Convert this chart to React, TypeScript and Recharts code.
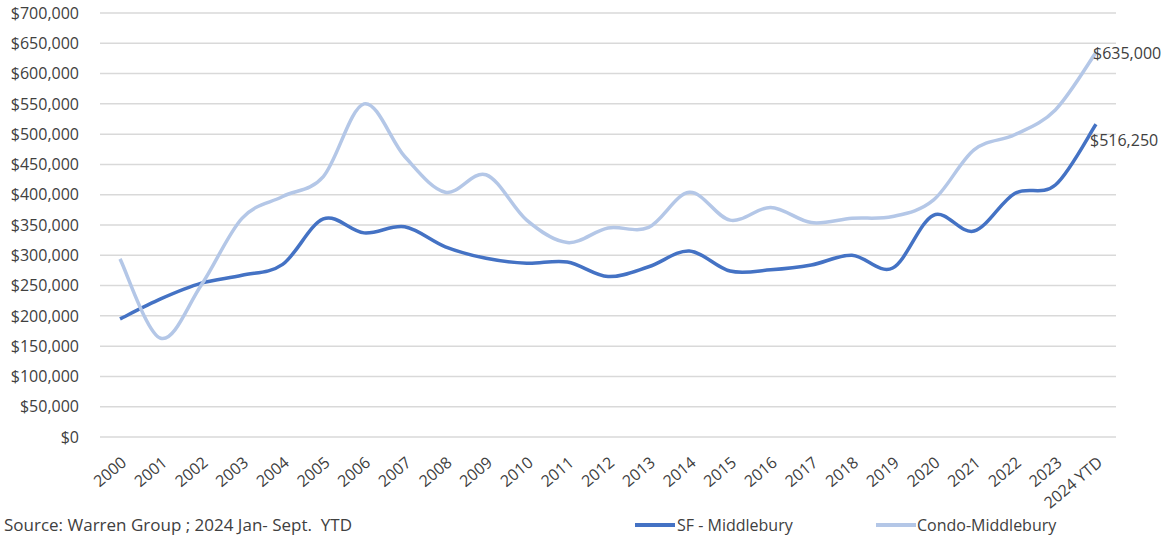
import React from "react";
import { LineChart, Line, XAxis, YAxis, CartesianGrid, LabelList } from "recharts";

const years = [
  "2000", "2001", "2002", "2003", "2004", "2005", "2006", "2007", "2008", "2009",
  "2010", "2011", "2012", "2013", "2014", "2015", "2016", "2017", "2018", "2019",
  "2020", "2021", "2022", "2023", "2024 YTD",
];

const sfMiddlebury = [
  195000, 228000, 254000, 267000, 285000, 360000, 337000, 347000, 314000, 295000,
  287000, 289000, 265000, 281000, 307000, 274000, 276000, 284000, 300000, 279000,
  366000, 340000, 402000, 416000, 516250,
];

const condoMiddlebury = [
  294000, 163000, 251000, 361000, 397000, 430000, 550000, 463000, 404000, 433000,
  358000, 321000, 345000, 346000, 404000, 358000, 379000, 354000, 361000, 364000,
  391000, 474000, 499000, 540000, 635000,
];

const yTicks = [0, 50000, 100000, 150000, 200000, 250000, 300000, 350000, 400000, 450000, 500000, 550000, 600000, 650000, 700000];

const data = years.map((year, i) => ({
  year,
  sf: sfMiddlebury[i],
  condo: condoMiddlebury[i],
}));

const FONT = "'Open Sans', 'Noto Sans', sans-serif";
const TEXT = "#404040";
const SF_COLOR = "#4472C4";
const CONDO_COLOR = "#B4C7E7";

const money = (v: number) => "$" + v.toLocaleString("en-US");

// Excel-style smoothed line (Catmull-Rom through every point)
const smooth = (context: any) => {
  let pts: number[][] = [];
  return {
    areaStart() {},
    areaEnd() {},
    lineStart() {
      pts = [];
    },
    point(x: number, y: number) {
      pts.push([+x, +y]);
    },
    lineEnd() {
      if (!pts.length) return;
      context.moveTo(pts[0][0], pts[0][1]);
      for (let i = 0; i < pts.length - 1; i++) {
        const p0 = pts[i - 1] || pts[i];
        const p1 = pts[i];
        const p2 = pts[i + 1];
        const p3 = pts[i + 2] || p2;
        context.bezierCurveTo(
          p1[0] + (p2[0] - p0[0]) / 6,
          p1[1] + (p2[1] - p0[1]) / 6,
          p2[0] - (p3[0] - p1[0]) / 6,
          p2[1] - (p3[1] - p1[1]) / 6,
          p2[0],
          p2[1]
        );
      }
    },
  };
};

const lastLabel = (dx: number, dy: number) => (props: any) => {
  const { x, y, value, index } = props;
  if (index !== years.length - 1) return null;
  return (
    <text x={x + dx} y={y + dy} dy="0.35em" fill={TEXT} fontSize={16} fontFamily={FONT}>
      {money(value)}
    </text>
  );
};

const YearTick = (props: any) => {
  const { x, y, payload } = props;
  return (
    <g transform={`translate(${x + 4},${y + 15})`}>
      <text
        textAnchor="end"
        transform="rotate(-40)"
        dy="0.35em"
        fill={TEXT}
        fontSize={16}
        fontFamily={FONT}
      >
        {payload.value}
      </text>
    </g>
  );
};

export default function App() {
  return (
    <div style={{ position: "absolute", left: 0, top: 0, width: 1163, height: 539, background: "#fff" }}>
      <LineChart
        width={1163}
        height={539}
        data={data}
        margin={{ top: 13, right: 47, left: 0, bottom: 0 }}
        style={{ overflow: "visible" }}
      >
        <CartesianGrid vertical={false} stroke="#d9d9d9" strokeWidth={1.5} />
        <XAxis
          dataKey="year"
          axisLine={false}
          tickLine={false}
          interval={0}
          height={102}
          padding={{ left: 20, right: 20 }}
          tick={<YearTick />}
        />
        <YAxis
          width={100}
          domain={[0, 700000]}
          ticks={yTicks}
          axisLine={false}
          tickLine={false}
          tickSize={0}
          tickMargin={21}
          tickFormatter={money}
          tick={{ fill: TEXT, fontSize: 16, fontFamily: FONT }}
        />
        <Line
          dataKey="sf"
          type={smooth as any}
          stroke={SF_COLOR}
          strokeWidth={3.5}
          dot={false}
          isAnimationActive={false}
        >
          <LabelList dataKey="sf" content={lastLabel(-6, 16)} />
        </Line>
        <Line
          dataKey="condo"
          type={smooth as any}
          stroke={CONDO_COLOR}
          strokeWidth={3.5}
          dot={false}
          isAnimationActive={false}
        >
          <LabelList dataKey="condo" content={lastLabel(-3, 1)} />
        </Line>
      </LineChart>
      <div
        style={{
          position: "absolute",
          left: 4,
          top: 513,
          fontFamily: FONT,
          fontSize: 17,
          lineHeight: "24px",
          color: TEXT,
          whiteSpace: "pre",
        }}
      >
        {"Source: Warren Group ; 2024 Jan- Sept.  YTD"}
      </div>
      <div
        style={{
          position: "absolute",
          left: 635,
          top: 513,
          display: "flex",
          alignItems: "center",
          fontFamily: FONT,
          fontSize: 16,
          lineHeight: "24px",
          color: TEXT,
          whiteSpace: "pre",
        }}
      >
        <span style={{ display: "inline-block", width: 40, height: 4, background: SF_COLOR, marginRight: 2 }} />
        <span style={{ display: "inline-block", width: 199 }}>SF - Middlebury</span>
        <span style={{ display: "inline-block", width: 40, height: 4, background: CONDO_COLOR, marginRight: 1 }} />
        <span>Condo-Middlebury</span>
      </div>
    </div>
  );
}
